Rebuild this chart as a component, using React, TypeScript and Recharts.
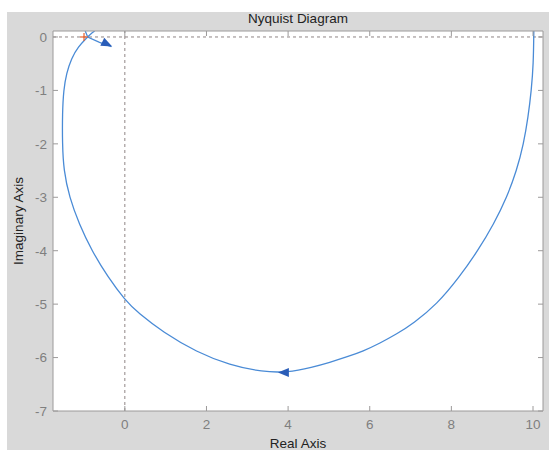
import { ComposedChart, Line, Scatter, XAxis, YAxis, ReferenceLine, CartesianGrid, Label } from 'recharts';

// Nyquist locus (positive frequencies, starting at G(0) = 10)
const curveRe = [
  10.02, 10.01, 9.96, 9.88, 9.77, 9.6, 9.36, 9.04, 8.65, 8.19, 7.65, 7.07, 6.66, 6.25, 5.84, 5.43,
  5.02, 4.6, 3.97, 3.38, 2.57, 1.76, 0.93, 0.33, 0.0, -0.41, -0.81, -1.12, -1.36, -1.5, -1.53, -1.53,
  -1.5, -1.43, -1.31, -1.14, -0.94, -0.82, -0.74,
];
const curveIm = [
  0.11, -0.5, -1.0, -1.5, -2.0, -2.5, -3.0, -3.5, -4.0, -4.5, -5.0, -5.36, -5.56, -5.73, -5.88, -5.99,
  -6.09, -6.18, -6.28, -6.27, -6.14, -5.9, -5.52, -5.17, -4.92, -4.5, -4.0, -3.5, -3.0, -2.49, -1.99, -1.43,
  -0.99, -0.68, -0.4, -0.18, -0.02, 0.07, 0.11,
];

// mirrored (negative frequency) piece near the critical point
const mirrorRe = [-0.97, -0.91, -0.62, -0.33];
const mirrorIm = [0.11, 0, -0.1, -0.18];

// direction arrows: tip position and heading (deg, screen)
const arrowRe = [3.75, -0.31];
const arrowIm = [-6.28, -0.18];
const arrowDeg = [180, 26];

const criticalRe = [-1];
const criticalIm = [0];

const xTicks = [0, 2, 4, 6, 8, 10];
const yTicks = [0, -1, -2, -3, -4, -5, -6, -7];

const curve = curveRe.map((x, i) => ({ x, y: curveIm[i] }));
const mirror = mirrorRe.map((x, i) => ({ x, y: mirrorIm[i] }));
const arrows = arrowRe.map((x, i) => ({ x, y: arrowIm[i], deg: arrowDeg[i] }));
const critical = criticalRe.map((x, i) => ({ x, y: criticalIm[i] }));

const AXIS = '#9c9a9a';
const TICK_TEXT = '#7f7f7f';
const LINE = '#4a8bd6';
const GAP = 6;
const FONT = '"Liberation Sans", Arial, sans-serif';

const LeftTick = (p: any) => (
  <g>
    <line x1={p.x + GAP} y1={p.y} x2={p.x + GAP + 5} y2={p.y} stroke={AXIS} />
    <text x={p.x} y={p.y} dy="0.36em" textAnchor="end" fill={TICK_TEXT} fontSize={13.5} fontFamily={FONT}>
      {p.payload.value}
    </text>
  </g>
);

const BottomTick = (p: any) => (
  <g>
    <line x1={p.x} y1={p.y - GAP} x2={p.x} y2={p.y - GAP - 5} stroke={AXIS} />
    <text x={p.x} y={p.y + 2} dy="0.71em" textAnchor="middle" fill={TICK_TEXT} fontSize={13.5} fontFamily={FONT}>
      {p.payload.value}
    </text>
  </g>
);

const TopTick = (p: any) => <line x1={p.x} y1={p.y + GAP} x2={p.x} y2={p.y + GAP + 5} stroke={AXIS} />;

const RightTick = (p: any) => <line x1={p.x - GAP} y1={p.y} x2={p.x - GAP - 5} y2={p.y} stroke={AXIS} />;

const ArrowHead = (p: any) => (
  <polygon
    points="0,0 -11,-4.5 -11,4.5"
    transform={`translate(${p.cx},${p.cy}) rotate(${p.payload.deg})`}
    fill="#2a5db8"
  />
);

const Cross = (p: any) => (
  <g stroke="#e8602c" strokeWidth={1.2}>
    <line x1={p.cx - 4} y1={p.cy} x2={p.cx + 4} y2={p.cy} />
    <line x1={p.cx} y1={p.cy - 4} x2={p.cx} y2={p.cy + 4} />
  </g>
);

export default function App() {
  const xDomain = [-1.76, 10.245];
  const yDomain = [-7, 0.112];
  return (
    <div style={{ position: 'absolute', left: 7, top: 12, width: 542, height: 438, background: '#d9d9d9' }}>
      <ComposedChart width={542} height={438} margin={{ top: 18, right: 0, bottom: 0, left: 6 }}>
        <CartesianGrid horizontal={false} vertical={false} fill="#ffffff" />
        <XAxis
          dataKey="x"
          type="number"
          domain={xDomain}
          allowDataOverflow
          ticks={xTicks}
          interval={0}
          height={39}
          tickSize={0}
          tickMargin={GAP}
          tickLine={false}
          stroke={AXIS}
          tick={<BottomTick />}
        >
          <Label value="Real Axis" position="insideBottom" offset={2} style={{ fill: '#222', fontSize: 13.5, fontFamily: FONT }} />
        </XAxis>
        <XAxis
          xAxisId="top"
          orientation="top"
          dataKey="x"
          type="number"
          domain={xDomain}
          allowDataOverflow
          ticks={xTicks}
          interval={0}
          height={1}
          tickSize={0}
          tickMargin={GAP}
          tickLine={false}
          stroke={AXIS}
          tick={<TopTick />}
        >
          <Label value="Nyquist Diagram" position="top" offset={7} style={{ fill: '#222', fontSize: 13.5, fontFamily: FONT }} />
        </XAxis>
        <YAxis
          type="number"
          domain={yDomain}
          allowDataOverflow
          ticks={yTicks}
          interval={0}
          width={40}
          tickSize={0}
          tickMargin={GAP}
          tickLine={false}
          stroke={AXIS}
          tick={<LeftTick />}
        >
          <Label
            value="Imaginary Axis"
            angle={-90}
            position="insideLeft"
            offset={5}
            style={{ textAnchor: 'middle', fill: '#222', fontSize: 13.5, fontFamily: FONT }}
          />
        </YAxis>
        <YAxis
          yAxisId="right"
          orientation="right"
          type="number"
          domain={yDomain}
          allowDataOverflow
          ticks={yTicks}
          interval={0}
          width={6}
          tickSize={0}
          tickMargin={GAP}
          tickLine={false}
          stroke={AXIS}
          tick={<RightTick />}
        />
        <ReferenceLine x={0} stroke="#8f8585" strokeDasharray="3 3" />
        <ReferenceLine y={0} stroke="#8f8585" strokeDasharray="3 3" />
        <Line data={curve} dataKey="y" type="basis" stroke={LINE} strokeWidth={1.3} dot={false} isAnimationActive={false} />
        <Line data={mirror} dataKey="y" type="linear" stroke={LINE} strokeWidth={1.3} dot={false} isAnimationActive={false} />
        <Scatter data={critical} dataKey="y" shape={<Cross />} isAnimationActive={false} />
        <Scatter data={arrows} dataKey="y" shape={<ArrowHead />} isAnimationActive={false} />
      </ComposedChart>
    </div>
  );
}
